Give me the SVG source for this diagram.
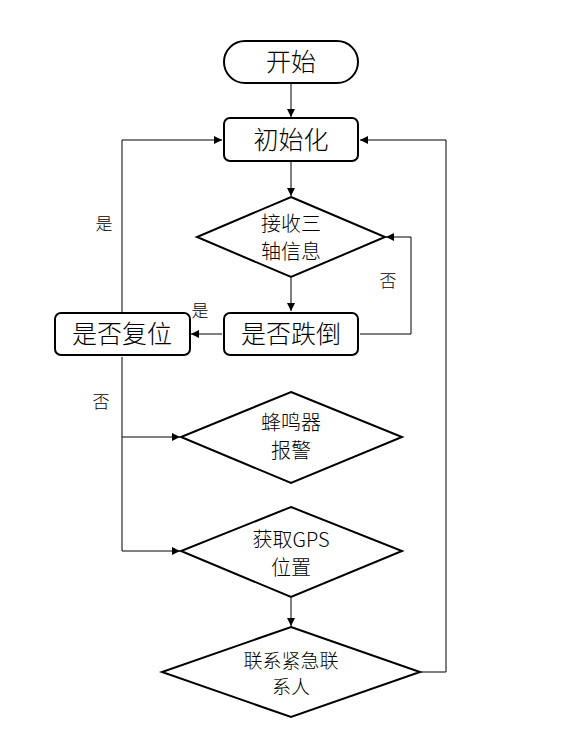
<svg xmlns="http://www.w3.org/2000/svg" width="562" height="734" viewBox="0 0 562 734">
<style>
.s{fill:#fff;stroke:#000;stroke-width:2}
.c{fill:none;stroke:#000;stroke-width:1}
text{font-family:"Noto Sans CJK SC","Noto Sans",sans-serif;font-weight:300;fill:#000;text-anchor:middle}
.t1{font-size:25px}
.t2{font-size:20px}
.t3{font-size:19px}
.l{font-size:17px}
</style>
<defs>
<marker id="a" viewBox="0 0 10 10" refX="10" refY="5" markerWidth="8" markerHeight="8" markerUnits="userSpaceOnUse" orient="auto">
<path d="M0,0 L10,5 L0,10 z" fill="#000"/>
</marker>
</defs>
<rect width="562" height="734" fill="#fff"/>
<g id="connectors">
<line class="c" x1="291" y1="84" x2="291" y2="117" marker-end="url(#a)"/>
<line class="c" x1="291" y1="162" x2="291" y2="196" marker-end="url(#a)"/>
<line class="c" x1="291" y1="278" x2="291" y2="311" marker-end="url(#a)"/>
<line class="c" x1="222" y1="334" x2="191" y2="334" marker-end="url(#a)"/>
<polyline class="c" points="360,334 411,334 411,237 386,237" marker-end="url(#a)"/>
<polyline class="c" points="122,312 122,140 222,140" marker-end="url(#a)"/>
<polyline class="c" points="122,357 122,437 180,437" marker-end="url(#a)"/>
<polyline class="c" points="122,437 122,551 180,551" marker-end="url(#a)"/>
<line class="c" x1="291" y1="598" x2="291" y2="626" marker-end="url(#a)"/>
<polyline class="c" points="421,672 446,672 446,140 360,140" marker-end="url(#a)"/>
<text class="l" x="104" y="230">是</text>
<text class="l" x="200" y="317">是</text>
<text class="l" x="388" y="287">否</text>
<text class="l" x="101" y="408">否</text>
</g>
<g id="start">
<rect class="s" x="224" y="41" width="134" height="42" rx="21"/>
<text class="t1" x="291" y="71">开始</text>
</g>
<g id="init">
<rect class="s" x="224" y="118" width="134" height="43" rx="6"/>
<text class="t1" x="291" y="149">初始化</text>
</g>
<g id="receive">
<polygon class="s" points="291,197 385,237 291,277 197,237"/>
<text class="t2" x="291" y="231">接收三</text>
<text class="t2" x="291" y="259">轴信息</text>
</g>
<g id="fall">
<rect class="s" x="224" y="313" width="134" height="42" rx="6"/>
<text class="t1" x="291" y="343">是否跌倒</text>
</g>
<g id="reset">
<rect class="s" x="55" y="313" width="135" height="42" rx="6"/>
<text class="t1" x="122" y="343">是否复位</text>
</g>
<g id="buzzer">
<polygon class="s" points="291,392 402,437 291,483 181,437"/>
<text class="t2" x="291" y="430">蜂鸣器</text>
<text class="t2" x="291" y="458">报警</text>
</g>
<g id="gps">
<polygon class="s" points="291,507 402,551 291,597 181,551"/>
<text class="t2" x="291" y="547">获取GPS</text>
<text class="t2" x="291" y="575">位置</text>
</g>
<g id="contact">
<polygon class="s" points="291,627 420,672 291,717 162,672"/>
<text class="t3" x="291" y="668">联系紧急联</text>
<text class="t3" x="291" y="694">系人</text>
</g>
</svg>
